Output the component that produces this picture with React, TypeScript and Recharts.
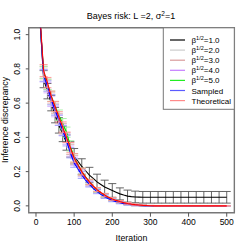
import { ComposedChart, Line, XAxis, YAxis, ErrorBar, ReferenceArea } from 'recharts'

const iterations = [10, 20, 30, 40, 50, 60, 70, 80, 90, 100, 110, 120, 130, 140, 150, 160, 170, 180, 190, 200, 210, 220, 230, 240, 250, 260, 270, 280, 290, 300, 310, 320, 330, 340, 350, 360, 370, 380, 390, 400, 410, 420, 430, 440, 450, 460, 470, 480, 490, 500]

const beta1 = [1.1, 0.74, 0.67, 0.6, 0.53, 0.47, 0.42, 0.37, 0.33, 0.29, 0.26, 0.23, 0.205, 0.18, 0.16, 0.14, 0.125, 0.11, 0.1, 0.09, 0.08, 0.07, 0.063, 0.057, 0.054, 0.052, 0.051, 0.05, 0.05, 0.05, 0.05, 0.05, 0.05, 0.05, 0.05, 0.05, 0.05, 0.05, 0.05, 0.05, 0.05, 0.05, 0.05, 0.05, 0.05, 0.05, 0.05, 0.05, 0.05, 0.05]
const beta2 = [1.1, 0.77, 0.7, 0.62, 0.56, 0.5, 0.45, 0.39, 0.33, 0.27, 0.23, 0.19, 0.16, 0.13, 0.11, 0.09, 0.075, 0.06, 0.048, 0.038, 0.03, 0.022, 0.017, 0.012, 0.009, 0.006, 0.004, 0.002, 0.001, 0, 0, 0, 0, 0, 0, 0, 0, 0, 0, 0, 0, 0, 0, 0, 0, 0, 0, 0, 0, 0]
const beta3 = [1.1, 0.78, 0.71, 0.63, 0.57, 0.51, 0.45, 0.4, 0.33, 0.27, 0.235, 0.2, 0.165, 0.135, 0.11, 0.09, 0.074, 0.06, 0.047, 0.037, 0.029, 0.022, 0.016, 0.012, 0.008, 0.005, 0.003, 0.002, 0.001, 0, 0, 0, 0, 0, 0, 0, 0, 0, 0, 0, 0, 0, 0, 0, 0, 0, 0, 0, 0, 0]
const beta4 = [1.1, 0.76, 0.69, 0.61, 0.55, 0.5, 0.44, 0.39, 0.32, 0.26, 0.225, 0.19, 0.16, 0.13, 0.108, 0.088, 0.072, 0.058, 0.045, 0.035, 0.027, 0.02, 0.015, 0.011, 0.008, 0.005, 0.003, 0.001, 0, 0, 0, 0, 0, 0, 0, 0, 0, 0, 0, 0, 0, 0, 0, 0, 0, 0, 0, 0, 0, 0]
const beta5 = [1.1, 0.78, 0.71, 0.64, 0.58, 0.53, 0.48, 0.43, 0.35, 0.28, 0.24, 0.2, 0.17, 0.14, 0.114, 0.092, 0.075, 0.06, 0.047, 0.037, 0.028, 0.021, 0.015, 0.011, 0.008, 0.005, 0.003, 0.001, 0, 0, 0, 0, 0, 0, 0, 0, 0, 0, 0, 0, 0, 0, 0, 0, 0, 0, 0, 0, 0, 0]
const sampled = [1.1, 0.76, 0.7, 0.62, 0.56, 0.5, 0.44, 0.38, 0.31, 0.25, 0.215, 0.18, 0.15, 0.125, 0.102, 0.083, 0.067, 0.053, 0.042, 0.032, 0.024, 0.018, 0.013, 0.009, 0.006, 0.004, 0.002, 0.001, 0, 0, 0, 0, 0, 0, 0, 0, 0, 0, 0, 0, 0, 0, 0, 0, 0, 0, 0, 0, 0, 0]
const theoretical = [1.12, 0.79, 0.72, 0.64, 0.58, 0.52, 0.46, 0.4, 0.34, 0.28, 0.24, 0.2, 0.168, 0.14, 0.116, 0.095, 0.078, 0.063, 0.05, 0.04, 0.032, 0.025, 0.019, 0.014, 0.01, 0.007, 0.005, 0.003, 0.002, 0.001, 0, 0, 0, 0, 0, 0, 0, 0, 0, 0, 0, 0, 0, 0, 0, 0, 0, 0, 0, 0]

// error half-widths; 0 means no bar drawn at that iteration
const beta1Err = [0, 0.05, 0.045, 0.045, 0.045, 0.045, 0.045, 0.045, 0.045, 0.045, 0, 0.045, 0, 0.045, 0, 0.045, 0, 0.04, 0, 0.04, 0, 0.035, 0, 0.035, 0, 0.034, 0, 0.034, 0, 0.034, 0, 0.034, 0, 0.034, 0, 0.034, 0, 0.034, 0, 0.034, 0, 0.034, 0, 0.034, 0, 0.034, 0, 0.034, 0, 0.034]
const smallErr = [0, 0.035, 0.03, 0.03, 0.03, 0.03, 0.03, 0.03, 0.03, 0.025, 0, 0.02, 0, 0.015, 0, 0.012, 0, 0.01, 0, 0.008, 0, 0.006, 0, 0.005, 0, 0.004, 0, 0.003, 0, 0.002, 0, 0.002, 0, 0.002, 0, 0.002, 0, 0.002, 0, 0.002, 0, 0.002, 0, 0.002, 0, 0.002, 0, 0.002, 0, 0.002]

const xTicks = [0, 100, 200, 300, 400, 500]
const yTicks = [0, 0.2, 0.4, 0.6, 0.8, 1.0]

const series = [
  { key: 'b1', name: '1.0', values: beta1, err: beta1Err, color: '#000000', errColor: '#555555', legend: '#000000' },
  { key: 'b2', name: '2.0', values: beta2, err: smallErr, color: '#b8b8b8', errColor: '#d0d0d0', legend: '#cccccc' },
  { key: 'b3', name: '3.0', values: beta3, err: smallErr, color: '#c07070', errColor: '#e0b0b0', legend: '#d89a9a' },
  { key: 'b4', name: '4.0', values: beta4, err: smallErr, color: '#a040ff', errColor: '#d8b0ff', legend: '#c47cff' },
  { key: 'b5', name: '5.0', values: beta5, err: smallErr, color: '#00dd00', errColor: '#a0f0a0', legend: '#22ee22' },
  { key: 'sp', name: 'Sampled', values: sampled, err: smallErr, color: '#0000ff', errColor: '#a0a0ff', legend: '#5b5bff' },
  { key: 'th', name: 'Theoretical', values: theoretical, err: smallErr, color: '#ff0000', errColor: '#ff9090', legend: '#ff8a8a' },
]

const data = iterations.map((x, i) => {
  const row: Record<string, number> = { x }
  series.forEach((s) => {
    row[s.key] = s.values[i]
    row[s.key + 'Err'] = s.err[i]
  })
  return row
})

const font = 'Liberation Sans, Arial, sans-serif'

const YTick = ({ y, payload }: any) => (
  <text x={17.5} y={y} dy="0.35em" transform={`rotate(-90 17.5 ${y})`} textAnchor="middle" fontSize={8.5} fill="#000" fontFamily={font}>
    {Number(payload.value).toFixed(1)}
  </text>
)

export default function App() {
  return (
    <div style={{ position: 'absolute', left: 0, top: 0, width: 249, height: 249, background: '#fff' }}>
      <ComposedChart width={249} height={249} data={data} margin={{ top: 27.8, right: 14.65, bottom: 0, left: 0 }}>
        <XAxis
          dataKey="x"
          type="number"
          domain={[-19, 520]}
          ticks={xTicks}
          height={36.3}
          axisLine={false}
          tickSize={4}
          tickLine={{ stroke: '#555' }}
          tick={{ fontSize: 8.5, fill: '#000', fontFamily: font }}
          allowDataOverflow
        />
        <YAxis
          type="number"
          domain={[-0.04, 1.04]}
          ticks={yTicks}
          width={28.75}
          axisLine={false}
          tickSize={3}
          tickLine={{ stroke: '#555' }}
          tick={<YTick />}
          allowDataOverflow
        />
        <ReferenceArea x1={-19} x2={520} y1={-0.04} y2={1.04} fill="none" stroke="#777" strokeWidth={1.4} />
        {series.map((s) => (
          <Line key={s.key} dataKey={s.key} stroke={s.color} strokeWidth={1.1} dot={false} isAnimationActive={false}>
            <ErrorBar dataKey={s.key + 'Err'} width={4} stroke={s.errColor} strokeWidth={0.9} direction="y" />
          </Line>
        ))}
      </ComposedChart>
      <svg width={249} height={249} style={{ position: 'absolute', left: 0, top: 0, pointerEvents: 'none' }} fontFamily={font}>
        <text x={131} y={18.5} textAnchor="middle" fontSize={9}>
          Bayes risk: L =2, σ<tspan dy={-3} fontSize={6.5}>2</tspan><tspan dy={3}>=1</tspan>
        </text>
        <text x={131.5} y={240.5} textAnchor="middle" fontSize={8.8}>Iteration</text>
        <text x={5} y={120} dy="0.35em" transform="rotate(-90 5 120)" textAnchor="middle" fontSize={8.8}>Inference discrepancy</text>
        <rect x={163.3} y={27.8} width={71} height={81.5} fill="#fff" stroke="#777" strokeWidth={1} />
        {series.map((s, i) => {
          const y = 40 + i * 10.1
          return (
            <g key={s.key}>
              <line x1={170} x2={185} y1={y} y2={y} stroke={s.legend} strokeWidth={1.2} />
              {i < 5 ? (
                <text x={191.5} y={y + 3} fontSize={8}>
                  β<tspan dy={-3} fontSize={5.5}>1/2</tspan><tspan dy={3}>={s.name}</tspan>
                </text>
              ) : (
                <text x={191.5} y={y + 3} fontSize={8}>{s.name}</text>
              )}
            </g>
          )
        })}
      </svg>
    </div>
  )
}
